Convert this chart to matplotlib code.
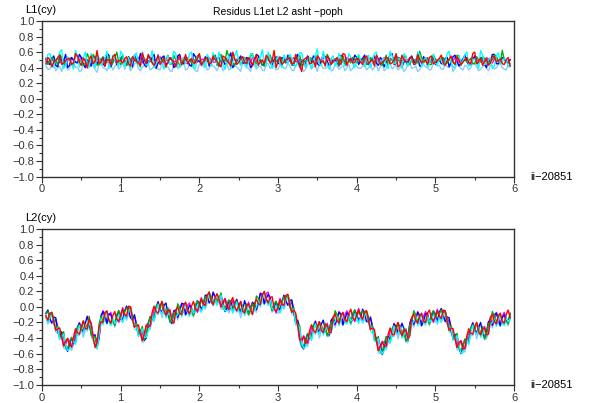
import numpy as np
import matplotlib.pyplot as plt
from matplotlib.ticker import MultipleLocator

plt.rcParams['font.family'] = ['Liberation Sans', 'DejaVu Sans']

# sample times (cycles): 119 main samples, 118 samples half-way between them
t = np.arange(1, 120) * 0.05
t_mid = t[:-1] + 0.025

colors = ['blue', 'red', '#00b000', 'magenta', 'cyan', '#87cefa']

# L1 residuals, in hundredths of a cycle
l1_blue = [52,44,55,41,49,57,43,50,46,53,40,48,55,45,51,42,56,47,44,52,
           47,54,41,50,58,44,49,53,39,48,55,46,51,43,57,45,50,42,54,48,
           45,52,49,56,42,50,47,59,44,51,46,53,40,49,55,43,52,47,50,45,
           53,46,50,43,57,48,41,52,55,45,49,54,42,50,47,56,44,51,48,53,
           49,56,44,51,46,53,41,50,58,45,52,47,43,55,49,42,54,46,51,44,
           50,45,53,47,56,42,51,48,44,55,46,52,40,49,57,45,53,47,50]
l1_blue_mid = [46,51,43,55,48,40,53,47,57,44,50,42,54,49,45,58,41,52,47,55,
               43,50,56,45,52,41,48,57,46,53,44,51,40,55,47,52,43,58,49,45,
               54,42,50,47,56,44,53,40,49,55,46,52,43,57,48,45,51,42,54,47,
               50,56,44,52,41,49,55,46,53,43,57,48,45,51,42,54,47,50,56,44,
               52,45,49,55,43,50,47,57,44,53,41,48,52,46,55,43,50,47,53,49,
               45,52,41,54,48,46,56,43,50,47,53,44,51,57,45,49,52,46]
l1_red = [45,50,47,53,44,49,52,46,55,43,48,51,45,62,47,42,50,54,46,49,
          51,45,54,48,42,50,57,46,49,44,53,47,50,41,55,48,45,52,46,58,
          48,53,46,50,44,55,49,42,51,47,54,45,49,52,43,50,56,46,62,48,
          44,50,53,46,48,35,52,45,49,55,47,42,51,48,53,44,57,49,46,52,
          47,53,45,50,56,44,49,52,46,58,43,50,47,54,45,51,48,44,55,47,
          52,46,49,55,44,50,47,53,45,60,48,43,51,46,54,49,45,50,42]
l1_red_mid = [53,41,49,56,46,51,44,58,47,52,40,55,48,45,53,50,43,57,49,46,
              54,42,50,47,59,45,52,43,56,48,41,53,47,51,44,57,49,46,52,43,
              50,45,55,48,41,53,46,60,44,51,47,53,42,56,48,45,52,49,40,54,
              47,51,45,57,43,50,54,46,41,52,49,55,44,50,46,58,43,52,47,50,
              44,55,48,42,51,47,53,45,50,41,56,48,52,44,57,46,50,53,45,49,
              56,43,51,47,54,44,50,46,58,45,52,48,43,55,47,51,44,53]
l1_green = [48,51,46,44,53,47,50,42,55,49,45,52,57,43,50,47,54,46,60,44,
            50,46,53,48,42,51,55,47,44,52,49,56,45,50,43,53,48,46,51,57,
            46,52,48,55,44,50,62,47,43,51,49,45,54,48,52,44,50,56,46,49,
            51,47,54,45,50,42,49,53,46,56,48,44,52,47,50,55,45,49,53,46,
            47,52,45,50,54,46,49,43,51,56,47,53,45,50,48,61,46,52,44,50,
            49,53,46,51,44,55,48,47,52,45,50,54,46,49,56,48,62,47,45]
l1_green_mid = [44,53,49,57,42,52,46,55,48,43,58,47,51,44,54,49,45,52,47,56,
                43,50,54,45,57,46,49,42,53,47,51,44,56,48,45,53,50,42,55,47,
                52,45,50,43,57,48,54,46,51,44,53,47,58,45,50,42,55,48,52,45,
                47,53,43,51,56,45,49,52,44,50,47,57,45,51,43,54,48,46,52,56,
                50,44,53,47,51,43,56,49,45,52,47,55,44,51,46,53,49,44,57,48,
                52,45,50,47,56,43,51,49,45,54,47,52,44,50,55,46,51,48]
l1_magenta = [50,47,49,52,48,46,51,49,47,53,50,48,45,51,49,52,47,50,48,51,
              49,52,47,50,53,48,46,51,49,54,47,50,52,48,51,46,53,49,47,50,
              51,48,50,47,53,49,52,46,50,48,54,51,47,49,52,48,50,53,47,49,
              48,51,49,53,47,50,46,52,49,51,48,53,50,47,52,49,46,51,53,48,
              50,47,52,49,51,46,53,48,50,54,47,51,49,52,48,50,47,53,49,51,
              49,52,48,50,53,47,51,49,46,52,50,48,53,47,51,49,52,48,50]
l1_magenta_mid = [48,52,50,46,51,49,53,47,50,52,46,51,49,48,53,47,50,51,49,52,
                  47,50,49,53,46,51,48,50,52,47,49,53,48,50,46,52,49,51,47,50,
                  49,53,47,51,48,50,46,52,49,51,47,50,53,48,49,46,52,50,48,51,
                  52,47,50,48,51,49,53,47,50,46,52,49,51,48,50,47,53,49,50,52,
                  48,51,49,53,47,50,48,52,46,51,49,50,53,47,51,48,50,46,52,49,
                  51,47,50,49,52,48,50,47,53,49,51,48,50,46,52,49,51,48]
l1_cyan = [44,58,40,52,63,42,50,38,55,46,60,41,49,57,43,52,39,56,47,61,
           42,53,48,59,40,51,45,62,44,50,38,55,47,58,41,53,46,60,39,52,
           48,57,42,51,60,44,49,39,56,47,54,41,58,45,50,63,42,52,46,55,
           40,51,57,44,48,59,41,53,46,64,43,50,38,55,47,52,42,58,45,51,
           49,41,56,47,60,43,52,39,55,46,51,58,42,50,44,57,48,40,54,46,
           52,43,58,47,41,55,49,60,44,51,39,56,46,53,42,59,47,50,44]
l1_cyan_mid = [57,43,51,60,39,54,47,62,41,52,45,58,40,53,48,61,44,50,42,57,
               49,39,55,46,60,43,52,40,57,47,53,44,61,42,50,45,58,41,54,47,
               40,52,59,45,50,38,55,47,62,43,51,46,57,41,53,48,60,39,50,44,
               56,46,52,41,59,47,50,39,56,44,61,45,52,42,58,48,44,53,40,57,
               45,53,40,58,47,50,42,61,45,52,39,55,48,44,60,41,53,46,57,43,
               50,47,61,40,53,45,57,42,51,48,62,44,50,39,55,46,52,41]
l1_lightblue = [42,38,46,40,35,44,39,47,41,36,45,40,43,34,46,39,42,37,45,41,
                38,44,40,47,36,42,45,39,43,37,46,41,35,44,40,47,38,42,36,45,
                41,37,45,40,43,36,46,39,42,38,47,40,35,44,41,37,45,39,43,38,
                44,39,42,36,46,40,38,45,41,35,43,39,47,37,42,40,36,44,39,42,
                39,45,40,37,44,41,36,46,38,43,40,35,45,39,42,37,44,40,38,46,
                43,38,41,46,39,44,37,42,40,45,36,41,39,43,38,44,40,37,41]
l1_lightblue_mid = [38,45,36,42,47,37,44,40,35,46,39,43,37,45,40,36,44,41,38,47,
                    43,36,45,39,41,47,37,43,38,46,40,36,44,39,42,37,45,40,35,43,
                    46,39,42,36,45,40,37,44,41,35,43,39,46,38,42,36,45,41,37,44,
                    39,46,37,43,40,35,44,38,42,47,39,41,36,45,38,43,40,36,46,39,
                    42,37,45,40,36,44,39,47,41,37,43,38,45,40,35,44,41,37,46,42,
                    38,44,40,35,45,39,43,37,46,41,38,44,36,42,40,45,38,43]

# L2 residuals, in hundredths of a cycle
l2_blue = [-8,-15,-13,-31,-32,-51,-47,-47,-26,-29,-21,-22,-36,-52,-11,-12,-9,-18,-13,-16,
           -5,-5,-17,-23,-33,-43,-21,-15,-1,-5,2,-8,-21,-4,-5,4,-5,-1,-5,4,
           2,15,8,13,9,6,-2,7,1,2,-5,0,-5,3,5,16,11,12,-3,0,
           7,8,8,-7,-17,-50,-43,-40,-24,-29,-22,-29,-36,-14,-15,-9,-16,-9,-16,-10,
           -13,-8,-19,-25,-42,-49,-53,-38,-36,-25,-29,-28,-43,-14,-16,-11,-18,-8,-16,-11,
           -7,-10,-13,-31,-35,-52,-50,-44,-27,-30,-26,-34,-32,-18,-10,-17,-14,-18,-9]
l2_blue_mid = [-4,-21,-14,-40,-36,-57,-40,-44,-21,-31,-12,-34,-36,-39,-6,-21,-10,-22,-5,-16,
               1,-14,-10,-36,-29,-40,-13,-15,6,-6,5,-17,-5,-13,4,-10,2,-9,8,-3,
               15,5,19,4,14,-6,8,-4,9,-6,8,-8,6,-3,17,4,16,-3,7,-4,
               15,2,9,-21,-28,-54,-35,-39,-19,-32,-17,-35,-17,-22,-7,-23,-8,-19,-4,-17,
               -3,-19,-13,-42,-42,-61,-39,-43,-22,-33,-21,-42,-21,-22,-7,-24,-9,-20,-5,-18,
               -2,-19,-14,-41,-38,-60,-42,-44,-21,-33,-20,-39,-19,-23,-8,-24,-10,-20]
l2_red = [-12,-8,-20,-28,-39,-44,-49,-39,-33,-25,-28,-15,-39,-45,-19,-8,-17,-11,-16,-11,
          -10,1,-16,-24,-34,-34,-26,-7,-6,1,-5,-4,-17,-4,-8,2,-5,1,-3,2,
          3,15,7,11,9,7,0,7,0,1,-5,1,-3,4,4,15,10,12,-2,-1,
          3,15,1,-4,-24,-42,-46,-31,-30,-25,-30,-24,-33,-13,-17,-11,-17,-8,-14,-11,
          -12,-6,-18,-27,-44,-50,-51,-35,-35,-26,-31,-30,-41,-13,-17,-12,-19,-8,-15,-12,
          -12,-4,-20,-27,-41,-45,-54,-37,-34,-25,-32,-28,-36,-13,-19,-12,-19,-10,-14]
l2_red_mid = [-17,-7,-30,-27,-50,-41,-51,-28,-35,-18,-28,-22,-52,-26,-20,-5,-21,-6,-18,-3,
              -12,0,-26,-23,-43,-24,-24,1,-8,7,-11,-5,-21,0,-10,6,-9,7,-5,10,
              2,19,3,17,0,10,-3,12,-5,7,-8,4,-10,10,3,20,5,13,-6,9,
              2,16,-7,-8,-42,-38,-46,-23,-33,-19,-33,-23,-33,-9,-21,-7,-19,-3,-17,-4,
              -16,-5,-29,-29,-56,-45,-50,-27,-36,-20,-37,-30,-37,-9,-21,-8,-20,-4,-18,-5,
              -15,-5,-30,-28,-52,-44,-53,-28,-35,-20,-36,-27,-35,-10,-22,-8,-21,-4]
l2_green = [-9,-15,-15,-25,-37,-52,-45,-45,-26,-30,-23,-12,-40,-52,-12,-7,-17,-16,-10,-14,
            -7,-6,-11,-21,-32,-42,-22,-13,1,-4,0,-1,-18,-11,-1,3,-5,-4,3,-1,
            6,8,12,14,11,-1,4,1,7,-4,0,4,-4,-3,11,16,10,7,4,-4,
            6,8,6,-1,-22,-50,-42,-37,-23,-30,-25,-21,-34,-20,-10,-10,-17,-13,-8,-14,
            -9,-13,-13,-24,-42,-58,-47,-41,-28,-31,-26,-27,-42,-20,-10,-11,-19,-13,-9,-15,
            -9,-11,-15,-24,-39,-53,-50,-43,-27,-30,-27,-25,-37,-20,-12,-11,-19,-15,-8]
l2_green_mid = [-6,-7,-30,-38,-32,-53,-39,-46,-23,-18,-27,-36,-38,-22,-19,-6,-20,-24,-5,-4,
                -1,0,-26,-34,-25,-36,-12,-17,4,7,-10,-19,-7,4,-9,5,-8,-11,8,9,
                13,19,3,6,18,-2,9,-6,7,7,-7,-10,4,14,4,19,6,-5,7,8,
                13,16,-7,-19,-24,-50,-34,-41,-21,-19,-32,-37,-19,-5,-20,-8,-18,-21,-4,-5,
                -5,-5,-29,-40,-38,-57,-38,-45,-24,-20,-36,-44,-23,-5,-20,-9,-19,-22,-5,-6,
                -4,-5,-30,-39,-34,-56,-41,-46,-23,-20,-35,-41,-21,-6,-21,-9,-20,-22]
l2_magenta = [-11,-10,-21,-26,-34,-49,-44,-47,-28,-28,-21,-21,-37,-46,-17,-9,-10,-17,-15,-9,
              -9,-1,-17,-22,-29,-39,-21,-15,-1,-2,2,-10,-15,-5,-6,1,2,-5,-2,4,
              4,13,6,13,14,2,5,-1,5,-2,2,-5,-1,3,6,14,17,6,-1,1,
              4,13,0,-2,-19,-47,-41,-39,-25,-28,-23,-30,-31,-14,-15,-12,-10,-14,-13,-9,
              -11,-8,-19,-25,-39,-55,-46,-43,-30,-29,-24,-36,-39,-14,-15,-13,-12,-14,-14,-10,
              -11,-6,-21,-25,-36,-50,-49,-45,-29,-28,-25,-34,-34,-14,-17,-13,-12,-16,-13]
l2_magenta_mid = [-19,-9,-16,-37,-50,-40,-52,-32,-20,-33,-26,-20,-37,-40,-5,-18,-7,-20,-20,-1,
                  -14,-2,-12,-33,-43,-23,-25,-3,7,-8,-9,-3,-6,-14,5,-7,5,-7,-7,12,
                  0,17,17,7,0,11,-4,8,10,-8,-6,6,5,-4,18,7,19,-1,-8,11,
                  0,14,7,-18,-42,-37,-47,-27,-18,-34,-31,-21,-18,-23,-6,-20,-5,-17,-19,-2,
                  -18,-7,-15,-39,-56,-44,-51,-31,-21,-35,-35,-28,-22,-23,-6,-21,-6,-18,-20,-3,
                  -17,-7,-16,-38,-52,-43,-54,-32,-20,-35,-34,-25,-20,-24,-7,-21,-7,-18]
l2_cyan = [-13,-13,-22,-27,-39,-49,-54,-44,-33,-32,-23,-21,-40,-54,-15,-13,-19,-14,-18,-14,
           -11,-4,-18,-23,-34,-39,-31,-12,-6,-6,0,-10,-18,-13,-4,-3,-7,-2,-5,-1,
           2,10,5,12,9,2,-5,2,0,-6,0,-5,-4,-5,8,10,8,9,-4,-4,
           2,10,-1,-3,-24,-47,-51,-36,-30,-32,-25,-30,-34,-22,-13,-16,-19,-11,-16,-14,
           -13,-11,-20,-26,-44,-55,-56,-40,-35,-33,-26,-36,-42,-22,-13,-17,-21,-11,-17,-15,
           -13,-9,-22,-26,-41,-50,-59,-42,-34,-32,-27,-34,-37,-22,-15,-17,-21,-13,-16]
l2_cyan_mid = [-20,-10,-29,-42,-35,-56,-50,-48,-24,-33,-31,-24,-51,-36,-23,-6,-24,-21,-10,-20,
               -15,-3,-25,-38,-28,-39,-23,-19,3,-8,-14,-7,-20,-10,-13,5,-12,-8,3,-7,
               -1,16,4,2,15,-5,-2,-8,6,-8,-11,2,-9,0,0,19,2,-2,2,-8,
               -1,13,-6,-23,-27,-53,-45,-43,-22,-34,-36,-25,-32,-19,-24,-8,-22,-18,-9,-21,
               -19,-8,-28,-44,-41,-60,-49,-47,-25,-35,-40,-32,-36,-19,-24,-9,-23,-19,-10,-22,
               -18,-8,-29,-43,-37,-59,-52,-48,-24,-35,-39,-29,-34,-20,-25,-9,-24,-19]
l2_lightblue = [-14,-18,-19,-34,-38,-54,-49,-48,-36,-29,-29,-20,-44,-49,-18,-17,-16,-20,-17,-18,
                -12,-9,-15,-30,-33,-44,-26,-16,-9,-3,-6,-9,-22,-8,-7,-7,-4,-8,-4,-5,
                1,5,8,5,10,-3,0,-2,-3,-3,-6,-4,-8,0,5,6,11,3,-3,-8,
                1,5,2,-10,-23,-52,-46,-40,-33,-29,-31,-29,-38,-17,-16,-20,-16,-17,-15,-18,
                -14,-16,-17,-33,-43,-60,-51,-44,-38,-30,-32,-35,-46,-17,-16,-21,-18,-17,-16,-19,
                -14,-14,-19,-33,-40,-55,-54,-46,-37,-29,-33,-33,-41,-17,-18,-21,-18,-19,-15]
l2_lightblue_mid = [-22,-20,-32,-35,-53,-54,-56,-39,-37,-39,-25,-37,-50,-43,-15,-22,-21,-26,-18,-18,
                    -17,-13,-28,-31,-46,-37,-29,-10,-10,-14,-8,-20,-19,-17,-5,-11,-9,-13,-5,-5,
                    -3,6,1,9,-3,-3,-8,1,-7,-14,-5,-11,-8,-7,8,3,5,-7,-6,-6,
                    -3,3,-9,-16,-45,-51,-51,-34,-35,-40,-30,-38,-31,-26,-16,-24,-19,-23,-17,-19,
                    -21,-18,-31,-37,-59,-58,-55,-38,-38,-41,-34,-45,-35,-26,-16,-25,-20,-24,-18,-20,
                    -20,-18,-32,-36,-55,-57,-58,-39,-37,-41,-33,-42,-33,-27,-17,-25,-21,-24]

l1_series = [(l1_blue, l1_blue_mid), (l1_red, l1_red_mid), (l1_green, l1_green_mid),
             (l1_magenta, l1_magenta_mid), (l1_cyan, l1_cyan_mid), (l1_lightblue, l1_lightblue_mid)]
l2_series = [(l2_blue, l2_blue_mid), (l2_red, l2_red_mid), (l2_green, l2_green_mid),
             (l2_magenta, l2_magenta_mid), (l2_cyan, l2_cyan_mid), (l2_lightblue, l2_lightblue_mid)]


def interleave(a, b):
    out = np.empty(len(a) + len(b))
    out[0::2] = a
    out[1::2] = b
    return out


tt = interleave(t, t_mid)

fig = plt.figure(figsize=(5.96, 4.03), dpi=100)
ax1 = fig.add_axes([0.0705, 0.562, 0.792, 0.386])
ax2 = fig.add_axes([0.0705, 0.045, 0.792, 0.387])

order = [5, 3, 0, 2, 4, 1]
for ax, series, ylab in [(ax1, l1_series, 'L1(cy)'), (ax2, l2_series, 'L2(cy)')]:
    for i in order:
        main, mid = series[i]
        ax.plot(tt, interleave(main, mid) / 100.0, color=colors[i], lw=1.0)
    ax.set_xlim(0, 6)
    ax.set_ylim(-1, 1)
    ax.yaxis.set_major_locator(MultipleLocator(0.2))
    ax.yaxis.set_minor_locator(MultipleLocator(0.1))
    ax.xaxis.set_major_locator(MultipleLocator(1))
    ax.xaxis.set_minor_locator(MultipleLocator(0.5))
    ax.set_yticklabels([f'{v:.1f}'.replace('-', '\u2212') for v in ax.get_yticks()])
    ax.tick_params(which='major', length=4, width=0.8, labelsize=8, colors='#333333', pad=1.5)
    ax.tick_params(which='minor', length=2, width=0.8, colors='#333333')
    ax.tick_params(top=False, right=False)
    for sp in ax.spines.values():
        sp.set_color('#333333')
        sp.set_linewidth(1.0)
    ax.text(-0.035, 1.04, ylab, transform=ax.transAxes, fontsize=8, ha='left', va='bottom')
    ax.text(1.035, 0.0, 'ii\u221220851', transform=ax.transAxes, fontsize=8, ha='left', va='center')

ax1.set_title('Residus L1et L2 asht \u2212poph', fontsize=7.5, pad=4)

fig.savefig('out.png', dpi=100)
